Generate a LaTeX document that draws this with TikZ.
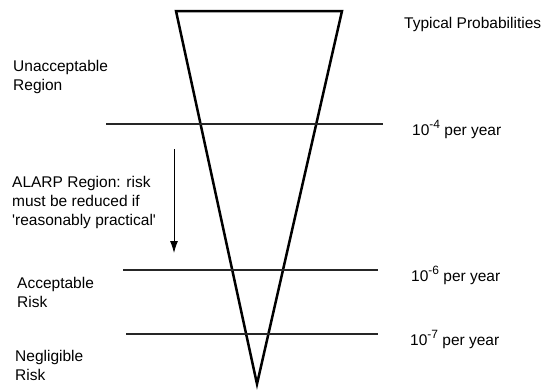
\documentclass[tikz,border=0pt]{standalone}
\usepackage{fontspec}
\setmainfont{Liberation Sans}[Ligatures=TeXOff]
\usetikzlibrary{arrows.meta}
\newcommand{\expo}[1]{\raisebox{0.42em}{\fontsize{12}{12}\selectfont #1}}

\begin{document}
\begin{tikzpicture}[
    x=1pt, y=-1pt,
    >={Latex[length=12pt,width=8pt]},
    region/.style={
        inner sep=0pt,
        anchor=west,
        align=left,
        font=\fontsize{15.5}{19}\selectfont
    },
    prob/.style={
        inner sep=0pt,
        anchor=base west,
        font=\fontsize{15.5}{19}\selectfont
    },
    level/.style={line width=1.2pt, black!85},
    funnel/.style={line width=2.5pt}
]
\useasboundingbox (0,0) rectangle (549,389);

% the funnel
\coordinate (topleft) at (176,11);
\coordinate (topright) at (342,11);
\coordinate (apex) at (257,384);
\draw[funnel] (topleft) -- (topright) -- (apex) -- cycle;

% probability levels
\coordinate (lvlfourw) at (106,124);
\coordinate (lvlfoure) at (383,124);
\coordinate (lvlsixw) at (123,270);
\coordinate (lvlsixe) at (378,270);
\coordinate (lvlsevenw) at (126,334);
\coordinate (lvlsevene) at (378,334);
\draw[level] (lvlfourw) -- (lvlfoure);
\draw[level] (lvlsixw) -- (lvlsixe);
\draw[level] (lvlsevenw) -- (lvlsevene);

% labels
\node[prob] (typical) at (404,28) {Typical Probabilities};
\node[prob] (pfour) at (412,135) {10\expo{-4} per year};
\node[prob] (psix) at (411,281) {10\expo{-6} per year};
\node[prob] (pseven) at (410,345) {10\expo{-7} per year};

\node[region] (unaccept) at (13,77) {Unacceptable\\Region};
\node[region] (alarp) at (12,202) {ALARP Region: risk\\must be reduced if\\'reasonably practical'};
\node[region] (accept) at (17,292) {Acceptable\\Risk};
\node[region] (negligible) at (15,365) {Negligible\\Risk};

% reduce the risk
\coordinate (arrowtop) at (174,149);
\coordinate (arrowend) at (174,253);
\draw[->, line width=0.9pt] (arrowtop) -- (arrowend);
\end{tikzpicture}
\end{document}
